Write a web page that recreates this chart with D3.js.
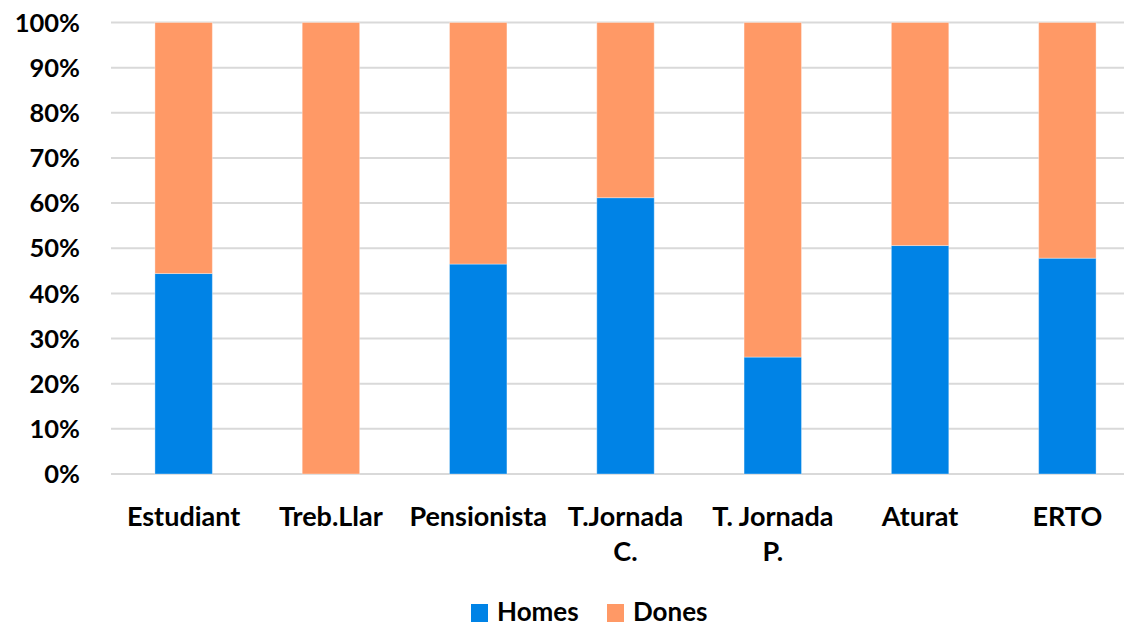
<!DOCTYPE html>
<html><head><meta charset="utf-8">
<script src="https://cdn.jsdelivr.net/npm/d3@7"></script>
<style>body{margin:0;background:#fff}svg{display:block}text{font-family:"Lato","Liberation Sans",Arial,sans-serif;font-weight:bold;fill:#000}</style>
</head><body>
<svg id="c" width="1124" height="627"></svg>
<script>
const categories = ["Estudiant","Treb.Llar","Pensionista","T.Jornada\nC.","T. Jornada\nP.","Aturat","ERTO"];
const homes = [44.4, 0, 46.5, 61.2, 25.9, 50.6, 47.8];
const dones = homes.map(v => 100 - v);
const yTicks = [0,10,20,30,40,50,60,70,80,90,100];
const seriesNames = ["Homes","Dones"];
const colors = ["#0083e6","#ff9966"];

const svg = d3.select("#c");
const x = d3.scaleBand().domain(categories).range([110, 1141]).paddingInner(0.61).paddingOuter(0.305);
const y = d3.scaleLinear().domain([0,100]).range([474, 22.5]);

// gridlines
svg.append("g").selectAll("line").data(yTicks).join("line")
  .attr("x1",111).attr("x2",1124).attr("y1",d=>y(d)).attr("y2",d=>y(d))
  .attr("stroke","#d9d9d9").attr("stroke-width",2);

// y labels
svg.append("g").selectAll("text").data(yTicks).join("text")
  .attr("x",80).attr("y",d=>y(d)).attr("dy","0.36em").attr("text-anchor","end")
  .attr("font-size",25.5).text(d=>d+"%");

const data = categories.map((c,i)=>({c, h:homes[i], d:dones[i]}));
const stack = d3.stack().keys(["h","d"])(data);
svg.append("g").selectAll("g").data(stack).join("g")
  .attr("fill",(d,i)=>colors[i])
  .selectAll("rect").data(d=>d).join("rect")
  .attr("x",d=>x(d.data.c)).attr("width",x.bandwidth())
  .attr("y",d=>y(d[1])).attr("height",d=>y(d[0])-y(d[1]))
  .attr("stroke","rgba(255,255,255,0.35)").attr("stroke-width",1);

// x labels
const xl = svg.append("g").selectAll("text").data(categories).join("text")
  .attr("x",d=>x(d)+x.bandwidth()/2).attr("y",516).attr("text-anchor","middle").attr("font-size",27);
xl.each(function(d){
  const t=d3.select(this);
  d.split("\n").forEach((s,i)=>t.append("tspan").attr("x",x(d)+x.bandwidth()/2).attr("y",516+i*35).attr("dy","0.36em").text(s));
});

// legend
const lg = svg.append("g");
const lx = [471, 607];
seriesNames.forEach((n,i)=>{
  lg.append("rect").attr("x",lx[i]).attr("y",604).attr("width",17).attr("height",18).attr("fill",colors[i]);
  lg.append("text").attr("x",lx[i]+26).attr("y",612).attr("dy","0.36em").attr("font-size",26).text(n);
});
</script>
</body></html>
